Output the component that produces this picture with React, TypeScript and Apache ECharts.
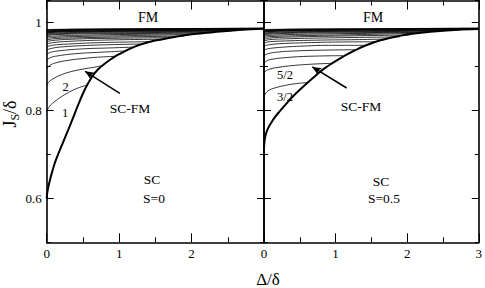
import { useEffect, useRef } from 'react';
import * as echarts from 'echarts';

const FONT = '"Times New Roman", "Liberation Serif", serif';

const xMajor = [0, 1, 2, 3];
const yLabelValues = [0.6, 0.8, 1];
const yMajorTicks = [0.6, 0.8, 1.0];

// S = 0 panel: SC-FM boundary
const thickS0: number[][] = [
  [0, 0.6], [0.008, 0.613], [0.025, 0.628], [0.05, 0.645], [0.08, 0.663], [0.12, 0.684],
  [0.17, 0.705], [0.23, 0.729], [0.3, 0.757], [0.38, 0.79], [0.46, 0.823], [0.54, 0.852],
  [0.62, 0.875], [0.7, 0.892], [0.8, 0.906], [0.9, 0.918], [1.0, 0.928], [1.2, 0.944],
  [1.4, 0.955], [1.6, 0.962], [1.8, 0.968], [2.0, 0.973], [2.3, 0.978], [2.65, 0.983], [3.0, 0.986],
];

// S = 0.5 panel: SC-FM boundary
const thickS05: number[][] = [
  [0, 0.712], [0.003, 0.722], [0.01, 0.733], [0.025, 0.745], [0.05, 0.757], [0.09, 0.769],
  [0.15, 0.784], [0.23, 0.8], [0.31, 0.815], [0.4, 0.831], [0.5, 0.847], [0.6, 0.862],
  [0.72, 0.879], [0.84, 0.895], [0.95, 0.907], [1.07, 0.919], [1.18, 0.929], [1.3, 0.939],
  [1.41, 0.947], [1.52, 0.954], [1.64, 0.96], [1.85, 0.968], [2.1, 0.975], [2.55, 0.982], [3.0, 0.985],
];

// S = 0 panel: thin curves (N = 1, 2, 3, ...)
const thinS0: number[][][] = [
  [[0, 0.797], [0.03, 0.807], [0.08, 0.816], [0.15, 0.825], [0.25, 0.836], [0.35, 0.845], [0.45, 0.852], [0.56, 0.858]],
  [[0, 0.857], [0.03, 0.865], [0.1, 0.873], [0.2, 0.881], [0.33, 0.888], [0.5, 0.894], [0.65, 0.898], [0.77, 0.902]],
  [[0, 0.895], [0.04, 0.902], [0.12, 0.908], [0.3, 0.914], [0.5, 0.918], [0.7, 0.921], [0.95, 0.923]],
  [[0, 0.914], [0.05, 0.92], [0.15, 0.924], [0.4, 0.929], [0.7, 0.932], [1.08, 0.935]],
  [[0, 0.927], [0.05, 0.932], [0.2, 0.936], [0.5, 0.94], [0.85, 0.942], [1.2, 0.944]],
  [[0, 0.937], [0.06, 0.941], [0.25, 0.945], [0.6, 0.948], [1.0, 0.95], [1.32, 0.951]],
  [[0, 0.944], [0.07, 0.948], [0.3, 0.951], [0.7, 0.954], [1.1, 0.9555], [1.47, 0.9565]],
  [[0, 0.951], [0.08, 0.954], [0.3, 0.957], [0.8, 0.96], [1.6, 0.962]],
  [[0, 0.956], [0.08, 0.959], [0.35, 0.962], [0.9, 0.964], [1.75, 0.9655]],
  [[0, 0.96], [0.1, 0.963], [0.4, 0.965], [1.0, 0.967], [1.9, 0.969]],
  [[0, 0.964], [0.1, 0.966], [0.4, 0.968], [1.1, 0.97], [2.0, 0.9725]],
  [[0, 0.967], [0.1, 0.969], [0.5, 0.971], [1.2, 0.973], [2.15, 0.9745]],
  [[0, 0.97], [0.1, 0.972], [0.5, 0.974], [1.3, 0.975], [2.3, 0.9775]],
  [[0, 0.972], [0.12, 0.974], [0.6, 0.976], [1.4, 0.977], [2.45, 0.9795]],
  [[0, 0.974], [0.15, 0.976], [0.7, 0.978], [1.6, 0.979], [2.55, 0.981]],
  [[0, 0.976], [0.15, 0.978], [0.8, 0.9795], [1.7, 0.9805], [2.65, 0.9825]],
  [[0, 0.977], [0.2, 0.979], [0.9, 0.9805], [1.8, 0.9815], [2.75, 0.984]],
  [[0, 0.978], [0.2, 0.98], [1.0, 0.9815], [2.0, 0.9825], [2.9, 0.985]],
  [[0, 0.979], [0.25, 0.981], [1.0, 0.9825], [2.0, 0.9835], [3.0, 0.9855]],
  [[0, 0.98], [0.3, 0.982], [1.2, 0.9835], [3.0, 0.986]],
  [[0, 0.981], [0.3, 0.983], [1.2, 0.9845], [3.0, 0.9862]],
  [[0, 0.982], [0.3, 0.9835], [1.5, 0.985], [3.0, 0.9865]],
  [[0, 0.983], [0.4, 0.9845], [1.5, 0.9855], [3.0, 0.987]],
  [[0, 0.984], [0.5, 0.985], [3.0, 0.987]],
];

// S = 0.5 panel: thin curves (N = 3/2, 5/2, ...)
const thinS05: number[][][] = [
  [[0, 0.831], [0.02, 0.838], [0.06, 0.845], [0.15, 0.851], [0.3, 0.857], [0.45, 0.861], [0.62, 0.8635]],
  [[0, 0.884], [0.02, 0.889], [0.08, 0.894], [0.2, 0.898], [0.4, 0.902], [0.65, 0.905], [0.93, 0.907]],
  [[0, 0.907], [0.03, 0.912], [0.1, 0.916], [0.3, 0.92], [0.6, 0.923], [1.1, 0.9245]],
  [[0, 0.924], [0.04, 0.928], [0.15, 0.932], [0.4, 0.935], [0.8, 0.937], [1.27, 0.938]],
  [[0, 0.937], [0.05, 0.94], [0.2, 0.943], [0.5, 0.946], [0.9, 0.948], [1.42, 0.948]],
  [[0, 0.946], [0.06, 0.949], [0.25, 0.952], [0.6, 0.954], [1.0, 0.9555], [1.55, 0.956]],
  [[0, 0.953], [0.07, 0.956], [0.3, 0.958], [0.8, 0.96], [1.3, 0.961], [1.72, 0.9625]],
  [[0, 0.958], [0.08, 0.961], [0.35, 0.963], [0.9, 0.965], [1.9, 0.9672]],
  [[0, 0.962], [0.1, 0.965], [0.4, 0.967], [1.0, 0.969], [2.02, 0.9715]],
  [[0, 0.966], [0.1, 0.968], [0.5, 0.97], [1.2, 0.972], [2.15, 0.9755]],
  [[0, 0.969], [0.12, 0.971], [0.5, 0.973], [1.3, 0.975], [2.3, 0.978]],
  [[0, 0.972], [0.15, 0.974], [0.6, 0.976], [1.5, 0.977], [2.45, 0.98]],
  [[0, 0.974], [0.15, 0.976], [0.7, 0.978], [1.6, 0.979], [2.6, 0.9822]],
  [[0, 0.976], [0.2, 0.978], [0.8, 0.9795], [1.8, 0.9805], [2.75, 0.9835]],
  [[0, 0.978], [0.2, 0.98], [1.0, 0.981], [2.0, 0.982], [2.9, 0.9845]],
  [[0, 0.979], [0.25, 0.981], [1.0, 0.982], [2.0, 0.983], [3.0, 0.985]],
  [[0, 0.98], [0.3, 0.982], [1.2, 0.983], [3.0, 0.9855]],
  [[0, 0.981], [0.3, 0.983], [1.3, 0.984], [3.0, 0.986]],
  [[0, 0.982], [0.35, 0.9835], [1.5, 0.9848], [3.0, 0.9865]],
  [[0, 0.983], [0.4, 0.9845], [1.5, 0.9855], [3.0, 0.987]],
  [[0, 0.984], [0.5, 0.985], [3.0, 0.987]],
];

// arrows (tail -> head) in data coordinates
const arrowS0 = [[1.01, 0.839], [0.53, 0.889]];
const arrowS05 = [[1.155, 0.851], [0.674, 0.899]];

const BLACK = '#000';

function xAxes(grid: number, showLast: boolean) {
  const base = {
    type: 'value', gridIndex: grid, min: 0, max: 3, interval: 1,
    splitLine: { show: false },
    axisLine: { show: true, onZero: false, lineStyle: { color: BLACK, width: 1.6 } },
    axisTick: { show: true, inside: true, length: 9, lineStyle: { color: BLACK, width: 1 } },
    minorTick: { show: true, splitNumber: 2, length: 5, lineStyle: { color: BLACK, width: 1 } },
    minorSplitLine: { show: false },
  };
  return [
    {
      ...base, position: 'bottom',
      axisLabel: {
        show: true, margin: 5, color: BLACK, fontFamily: FONT, fontSize: 13,
        formatter: (v: number) => (!showLast && v === xMajor[xMajor.length - 1] ? '' : String(v)),
      },
    },
    { ...base, position: 'top', axisLabel: { show: false } },
  ];
}

function yAxes(grid: number, labels: boolean) {
  const common = {
    type: 'value', gridIndex: grid, min: 0.5, max: 1.05,
    splitLine: { show: false },
  };
  const main = (pos: string, lab: boolean) => ({
    ...common, position: pos, interval: 0.1,
    axisLine: { show: true, onZero: false, lineStyle: { color: BLACK, width: 1.6 } },
    axisTick: { show: true, inside: true, length: 4, lineStyle: { color: BLACK, width: 1 } },
    axisLabel: {
      show: lab, margin: 5, color: BLACK, fontFamily: FONT, fontSize: 13,
      formatter: (v: number) => {
        const hit = yLabelValues.find((t) => Math.abs(t - v) < 1e-6);
        return hit === undefined ? '' : String(hit);
      },
    },
  });
  const major = (pos: string) => ({
    ...common, position: pos,
    axisLine: { show: false, onZero: false },
    axisTick: { show: true, inside: true, length: 7, customValues: yMajorTicks, lineStyle: { color: BLACK, width: 1 } },
    axisLabel: { show: false },
  });
  return [main('left', labels), major('left'), main('right', false), major('right')];
}

function lineSeries(data: number[][], xi: number, yi: number, width: number) {
  return {
    type: 'line', xAxisIndex: xi, yAxisIndex: yi, data,
    showSymbol: false, symbol: 'none', smooth: 0.45,
    lineStyle: { color: BLACK, width }, silent: true, z: width > 1 ? 3 : 2,
  };
}

function arrowSeries(arrow: number[][], xi: number, yi: number) {
  return {
    type: 'line', xAxisIndex: xi, yAxisIndex: yi, data: [], silent: true,
    markLine: {
      silent: true, animation: false,
      symbol: ['none', 'arrow'], symbolSize: [6, 9],
      label: { show: false },
      lineStyle: { color: BLACK, width: 1.5, type: 'solid' },
      data: [[{ coord: arrow[0] }, { coord: arrow[1] }]],
    },
  };
}

function txt(text: string, x: number, y: number, size: number, align = 'center') {
  return {
    type: 'text', x, y, silent: true,
    style: { text, fill: BLACK, fontFamily: FONT, fontSize: size, align, verticalAlign: 'middle' },
  };
}

export default function App() {
  const ref = useRef<HTMLDivElement>(null);
  useEffect(() => {
    if (!ref.current) return;
    const chart = echarts.init(ref.current, null, { renderer: 'svg' });
    const series: any[] = [];
    thinS0.forEach((d) => series.push(lineSeries(d, 0, 0, 0.8)));
    series.push(lineSeries(thickS0, 0, 0, 2));
    thinS05.forEach((d) => series.push(lineSeries(d, 2, 4, 0.8)));
    series.push(lineSeries(thickS05, 2, 4, 2));
    series.push(arrowSeries(arrowS0, 0, 0));
    series.push(arrowSeries(arrowS05, 2, 4));

    chart.setOption({
      animation: false,
      textStyle: { fontFamily: FONT },
      grid: [
        { left: 46.7, top: 0.5, width: 217.3, height: 241.8 },
        { left: 264, top: 0.5, width: 218, height: 241.8 },
      ],
      xAxis: [...xAxes(0, false), ...xAxes(1, true)],
      yAxis: [...yAxes(0, true), ...yAxes(1, false)],
      series,
      graphic: [
        txt('FM', 148, 17, 14),
        txt('FM', 373, 17, 14),
        txt('SC-FM', 130, 108, 13.5),
        txt('SC-FM', 361, 106, 13.5),
        txt('SC', 152, 179, 13.5),
        txt('S=0', 154, 198, 13.5),
        txt('SC', 381, 181, 13.5),
        txt('S=0.5', 384, 198, 13.5),
        txt('1', 65, 113, 12.5),
        txt('2', 65.5, 87, 12.5),
        txt('5/2', 285, 75, 12.5),
        txt('3/2', 285, 97, 12.5),
        txt('Δ/δ', 268, 279, 17),
        {
          type: 'text', x: 10, y: 114, rotation: Math.PI / 2, silent: true,
          style: {
            text: '{j|J}{s|S}{j|/δ}',
            fill: BLACK, align: 'center', verticalAlign: 'middle',
            fontFamily: FONT,
            rich: {
              j: { fontFamily: FONT, fontSize: 18, lineHeight: 22, verticalAlign: 'middle', fill: BLACK },
              s: { fontFamily: FONT, fontSize: 12, lineHeight: 22, verticalAlign: 'bottom', fill: BLACK, padding: [9, 0, 0, 0] },
            },
          },
        },
      ],
    });
    return () => chart.dispose();
  }, []);
  return <div ref={ref} style={{ position: 'absolute', left: 0, top: 0, width: 485, height: 288 }} />;
}
